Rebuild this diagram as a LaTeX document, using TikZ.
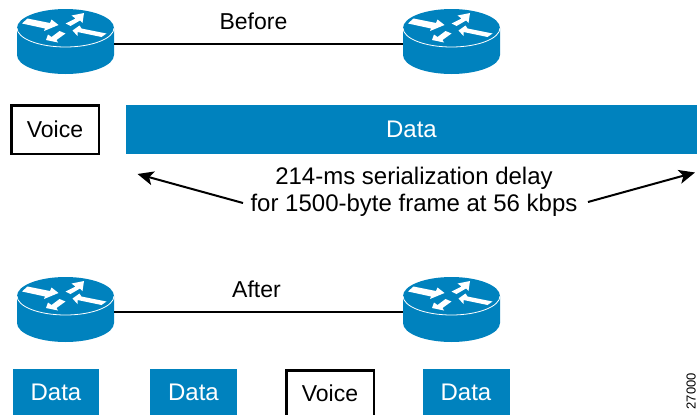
\documentclass[tikz,border=0pt]{standalone}
\usepackage{fontspec}
\setmainfont{Liberation Sans}
\usetikzlibrary{arrows.meta, positioning}

\definecolor{ciscoblue}{RGB}{0,130,190}

\tikzset{
  router/.pic={
    \fill[ciscoblue] (-48.5,-13.5) -- (-48.5,13.5) arc[start angle=180,end angle=0,x radius=48.5,y radius=19]
      -- (48.5,-13.5) arc[start angle=0,end angle=-180,x radius=48.5,y radius=19] -- cycle;
    \draw[white,line width=0.8pt] (-48.5,-13.5) arc[start angle=180,end angle=0,x radius=48.5,y radius=19];
    \fill[white] (-38,-23) -- (-15.5,-18.5) -- (-14,-22) -- (-7,-16.5) -- (-21.5,-10.5) -- (-20.5,-13) -- (-43.5,-18) -- cycle;
    \fill[white] (18.5,-28.5) -- (6,-26) -- (10,-23) -- (0,-18) -- (5,-15.5) -- (14.5,-21) -- (17,-18.5) -- cycle;
    \fill[white] (7,-11) -- (14,-16) -- (16,-13) -- (41,-8) -- (36,-4.5) -- (12,-9.5) -- (12,-5.5) -- cycle;
    \fill[white] (-19.5,-1.5) -- (-17.5,-7) -- (-14,-4.5) -- (-6,-10.5) -- (0,-8) -- (-9,-1.5) -- (-7.5,1) -- cycle;
  }
}

\begin{document}
\begin{tikzpicture}[x=1pt,y=-1pt,>={Stealth[length=16pt,width=14pt,inset=4pt]},font=\fontsize{23}{27}\selectfont,
 lan/.style={draw=none,inner sep=0pt,minimum width=97pt,minimum height=50pt},
 data box/.style={fill=ciscoblue,text=white,inner sep=0pt,minimum height=46pt,font=\fontsize{24}{27}\selectfont},
 voice box/.style={draw=black,line width=2.5pt,inner sep=0pt,minimum height=46pt}]

  \useasboundingbox (0,0) rectangle (697,415);

  \node[lan] (r1) at (65.5,44) {};
  \node[lan] (r2) at (451.5,44) {};
  \node[lan] (r3) at (65.5,312) {};
  \node[lan] (r4) at (451.5,312) {};
  \foreach \r in {r1,r2,r3,r4} {
    \pic at ([yshift=2.5pt]\r) {router};
  }

  \path[draw,line width=1.5pt] (r1) -- node[above=10pt,xshift=-5pt,black] (before) {Before} (r2);
  \path[draw,line width=1.5pt] (r3) -- node[above=10pt,xshift=-2pt,black] (after) {After} (r4);

  \node[voice box,minimum width=87.5pt,minimum height=48.5pt] (voice1) at (55,129.5) {Voice};
  \node[data box,minimum width=571pt,minimum height=49pt] (data1) at (411.5,129.5) {Data};

  \node[align=center,inner sep=0pt,font=\fontsize{24}{27}\selectfont] (delay) at (414,191.5) {214-ms serialization delay\\for 1500-byte frame at 56 kbps};
  \coordinate (left end) at (137.5,174);
  \coordinate (right end) at (695,172.5);
  \draw[->,line width=2pt] (243,203) -- (left end);
  \draw[->,line width=2pt] (588,202) -- (right end);

  \node[data box,minimum width=86pt] (data2) at (56,392) {Data};
  \node[data box,minimum width=87pt] (data3) at (193.5,392) {Data};
  \node[voice box,minimum width=87.5pt,text height=31pt,text depth=21pt,anchor=north] (voice2) at (330,369) {Voice};
  \node[data box,minimum width=87pt] (data4) at (466,392) {Data};

  \node[rotate=90,anchor=south east,font=\fontsize{13}{15}\selectfont,inner sep=0pt] (tag) at (696,373) {27000};

\end{tikzpicture}
\end{document}
